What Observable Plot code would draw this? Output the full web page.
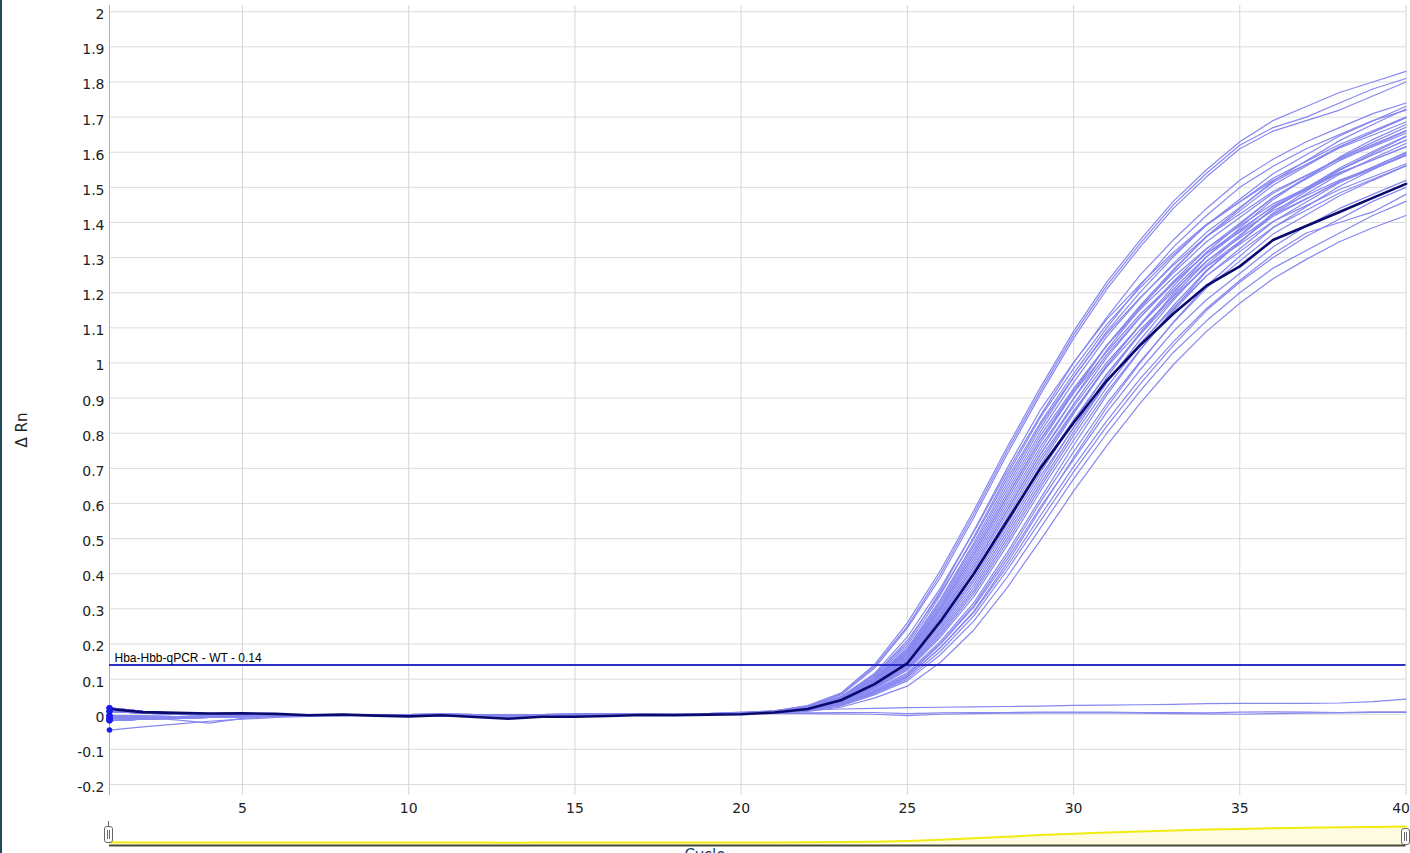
<!DOCTYPE html>
<html>
<head>
<meta charset="utf-8">
<script src="https://cdn.jsdelivr.net/npm/d3@7"></script>
<script src="https://cdn.jsdelivr.net/npm/@observablehq/plot@0.6"></script>
<style>
  html, body { margin: 0; padding: 0; background: #fff; }
  #page { position: relative; width: 1410px; height: 853px; overflow: hidden; background: #fff; }
  #main { position: absolute; left: 0; top: 0; }
  #slider { position: absolute; left: 0; top: 820px; }
  #leftBorder { position: absolute; left: 0; top: 0; width: 2px; height: 853px; background: #1f4b5b; }
  #ylabel { position: absolute; left: 22px; top: 430px; transform: translate(-50%, -50%) rotate(-90deg);
            font: 15px "DejaVu Sans", Verdana, sans-serif; color: #222; white-space: nowrap; }
  #xlabel { position: absolute; left: 705px; top: 846px; transform: translateX(-50%);
            font: 15px "DejaVu Sans", Verdana, sans-serif; color: #1c3d6b; white-space: nowrap; }
  .handle { position: absolute; width: 7px; height: 15px; background: #fff; border: 1px solid #666;
            border-radius: 3px; box-sizing: content-box; }
  .handle::before, .handle::after { content: ""; position: absolute; top: 3px; width: 1px; height: 9px; background: #666; }
  .handle::before { left: 2px; } .handle::after { left: 4px; }
  #handleTick { position: absolute; left: 108px; top: 821px; width: 1px; height: 5px; background: #666; }
</style>
</head>
<body>
<div id="page">
  <div id="main"></div>
  <div id="slider"></div>
  <div id="leftBorder"></div>
  <div id="ylabel">Δ Rn</div>
  <div id="xlabel">Cycle</div>
  <div id="handleTick"></div>
  <div class="handle" style="left:104px; top:826px;"></div>
  <div class="handle" style="left:1401px; top:828px;"></div>
</div>
<script>
// ---------- DATA ----------
const cycles = [1,2,3,4,5,6,7,8,9,10,11,12,13,14,15,16,17,18,19,20,21,22,23,24,25,26,27,28,29,30,31,32,33,34,35,36,37,38,39,40];
const xTicks = [5,10,15,20,25,30,35,40];
const yTicks = [-0.2,-0.1,0,0.1,0.2,0.3,0.4,0.5,0.6,0.7,0.8,0.9,1,1.1,1.2,1.3,1.4,1.5,1.6,1.7,1.8,1.9,2];
const threshold = 0.14;
const thresholdLabel = "Hba-Hbb-qPCR - WT - 0.14";

// Baseline patterns, cycles 1–19
const base0 = [0.008,0.003,0.000,-0.002,-0.002,-0.002,-0.003,-0.002,-0.003,-0.004,-0.003,-0.005,-0.008,-0.005,-0.004,-0.003,-0.002,-0.002,-0.001];
const base1 = [-0.004,-0.006,-0.007,-0.006,-0.005,-0.004,-0.003,-0.002,-0.002,-0.002,-0.001,-0.002,-0.003,-0.002,-0.001,0.000,0.000,0.001,0.001];
const base2 = [-0.012,-0.010,-0.009,-0.008,-0.006,-0.004,-0.003,-0.002,-0.001,-0.001,0.000,-0.001,-0.002,-0.001,0.000,0.001,0.001,0.002,0.002];
const base3 = [-0.018,-0.014,-0.011,-0.009,-0.007,-0.005,-0.003,-0.002,-0.001,-0.002,-0.001,-0.002,-0.003,-0.002,-0.001,0.000,0.000,0.001,0.001];
const base4 = [0.018,0.008,0.003,0.000,-0.001,-0.001,-0.002,-0.001,-0.002,-0.003,-0.002,-0.004,-0.006,-0.004,-0.003,-0.002,-0.001,-0.001,0.000];
const base5 = [-0.006,-0.010,-0.016,-0.025,-0.012,-0.006,-0.004,-0.002,-0.002,-0.001,0.000,-0.001,-0.002,-0.001,0.000,0.000,0.001,0.001,0.001];
const base6 = [-0.045,-0.036,-0.028,-0.020,-0.014,-0.009,-0.006,-0.004,-0.003,-0.002,-0.001,-0.002,-0.003,-0.002,-0.001,0.000,0.000,0.001,0.001];
const baselines = [base0, base1, base2, base3, base4, base5, base6];

// Amplification, cycles 20–40
const topCurves = [
  [0.004,0.010,0.025,0.060,0.140,0.260,0.410,0.580,0.760,0.930,1.090,1.230,1.350,1.460,1.550,1.630,1.690,1.730,1.770,1.800,1.830],
  [0.004,0.010,0.024,0.058,0.135,0.250,0.400,0.570,0.750,0.920,1.080,1.220,1.340,1.450,1.540,1.620,1.670,1.700,1.740,1.780,1.810],
  [0.003,0.009,0.022,0.055,0.130,0.245,0.390,0.560,0.740,0.910,1.070,1.210,1.330,1.440,1.530,1.610,1.660,1.690,1.720,1.760,1.800]
];
const upperCurves = [
  [0.003,0.008,0.020,0.050,0.115,0.220,0.360,0.520,0.690,0.850,1.000,1.130,1.250,1.350,1.440,1.520,1.580,1.630,1.670,1.710,1.740],
  [0.003,0.008,0.019,0.047,0.110,0.210,0.345,0.500,0.670,0.830,0.970,1.100,1.220,1.330,1.420,1.500,1.560,1.610,1.650,1.690,1.720]
];
const bulkCurves = [
  [0.003,0.008,0.020,0.048,0.108,0.195,0.340,0.505,0.680,0.845,0.984,1.110,1.214,1.308,1.392,1.459,1.526,1.574,1.622,1.661,1.700],
  [0.003,0.008,0.019,0.046,0.104,0.188,0.328,0.488,0.660,0.824,0.960,1.084,1.186,1.278,1.360,1.424,1.488,1.534,1.580,1.616,1.654],
  [0.003,0.008,0.019,0.045,0.101,0.181,0.316,0.471,0.640,0.803,0.945,1.075,1.184,1.283,1.372,1.443,1.514,1.565,1.616,1.657,1.698],
  [0.003,0.007,0.019,0.044,0.099,0.178,0.310,0.463,0.630,0.793,0.927,1.050,1.152,1.244,1.326,1.390,1.453,1.497,1.542,1.578,1.615],
  [0.003,0.007,0.018,0.043,0.097,0.174,0.304,0.454,0.620,0.782,0.922,1.050,1.159,1.257,1.345,1.414,1.483,1.533,1.583,1.622,1.662],
  [0.003,0.007,0.018,0.042,0.095,0.170,0.298,0.445,0.610,0.772,0.915,1.050,1.163,1.266,1.359,1.433,1.506,1.561,1.614,1.657,1.699],
  [0.003,0.007,0.018,0.042,0.094,0.167,0.292,0.437,0.600,0.761,0.898,1.024,1.130,1.226,1.312,1.379,1.445,1.492,1.540,1.578,1.616],
  [0.003,0.007,0.017,0.040,0.090,0.160,0.280,0.420,0.580,0.740,0.883,1.016,1.129,1.232,1.325,1.398,1.471,1.524,1.576,1.619,1.660],
  [0.003,0.007,0.017,0.040,0.090,0.160,0.280,0.420,0.580,0.740,0.876,1.002,1.108,1.204,1.290,1.356,1.422,1.468,1.515,1.552,1.590],
  [0.003,0.007,0.016,0.038,0.086,0.153,0.268,0.403,0.560,0.719,0.861,0.994,1.107,1.210,1.303,1.375,1.447,1.499,1.551,1.593,1.634],
  [0.003,0.007,0.016,0.038,0.085,0.150,0.262,0.395,0.550,0.709,0.855,0.992,1.110,1.218,1.316,1.394,1.471,1.527,1.583,1.628,1.671],
  [0.002,0.006,0.016,0.037,0.083,0.146,0.256,0.386,0.540,0.698,0.838,0.969,1.081,1.183,1.275,1.346,1.417,1.467,1.518,1.558,1.598],
  [0.002,0.006,0.016,0.036,0.081,0.143,0.250,0.378,0.530,0.688,0.832,0.968,1.085,1.192,1.289,1.364,1.440,1.495,1.549,1.593,1.635],
  [0.002,0.006,0.015,0.035,0.079,0.139,0.244,0.369,0.520,0.677,0.815,0.945,1.056,1.157,1.248,1.317,1.386,1.435,1.484,1.523,1.562],
  [0.002,0.006,0.015,0.034,0.076,0.132,0.232,0.352,0.500,0.656,0.804,0.944,1.066,1.178,1.280,1.360,1.440,1.498,1.555,1.602,1.646],
  [0.002,0.006,0.014,0.032,0.072,0.125,0.220,0.335,0.480,0.635,0.780,0.918,1.038,1.148,1.248,1.325,1.402,1.458,1.513,1.557,1.600],
  [0.002,0.005,0.013,0.030,0.068,0.118,0.208,0.318,0.460,0.614,0.765,0.909,1.036,1.153,1.261,1.344,1.427,1.489,1.549,1.598,1.644],
  [0.002,0.005,0.013,0.030,0.067,0.114,0.202,0.310,0.450,0.604,0.747,0.884,1.004,1.114,1.214,1.290,1.367,1.421,1.476,1.520,1.561],
  [0.002,0.005,0.013,0.028,0.063,0.107,0.190,0.293,0.430,0.583,0.731,0.874,1.000,1.116,1.220,1.304,1.385,1.445,1.503,1.550,1.595],
  [0.003,0.008,0.021,0.050,0.112,0.202,0.352,0.522,0.700,0.866,1.002,1.124,1.224,1.315,1.395,1.458,1.520,1.565,1.612,1.649,1.686],
  [0.003,0.008,0.019,0.046,0.103,0.185,0.322,0.480,0.650,0.814,0.958,1.090,1.201,1.302,1.393,1.466,1.539,1.593,1.646,1.689,1.731],
  [0.003,0.007,0.017,0.041,0.092,0.164,0.286,0.429,0.590,0.751,0.899,1.037,1.155,1.263,1.361,1.440,1.518,1.576,1.633,1.679,1.723],
  [0.003,0.007,0.017,0.039,0.088,0.156,0.274,0.411,0.570,0.729,0.864,0.988,1.094,1.189,1.274,1.338,1.403,1.448,1.494,1.530,1.567],
  [0.002,0.006,0.015,0.034,0.077,0.135,0.238,0.360,0.510,0.666,0.817,0.959,1.084,1.198,1.302,1.384,1.465,1.527,1.586,1.636,1.679],
  [0.003,0.007,0.018,0.043,0.097,0.174,0.304,0.454,0.620,0.782,0.915,1.032,1.138,1.229,1.312,1.372,1.434,1.477,1.521,1.555,1.592],
  [0.002,0.006,0.014,0.033,0.074,0.128,0.226,0.344,0.490,0.646,0.793,0.931,1.052,1.163,1.264,1.343,1.423,1.481,1.537,1.582,1.625]
];
const lowerCurves = [
  [0.002,0.004,0.010,0.024,0.055,0.095,0.170,0.265,0.390,0.530,0.670,0.800,0.920,1.030,1.120,1.200,1.270,1.320,1.370,1.420,1.460],
  [0.001,0.003,0.008,0.020,0.046,0.080,0.148,0.240,0.360,0.495,0.635,0.765,0.885,0.995,1.090,1.170,1.240,1.295,1.345,1.385,1.420],
  [0.002,0.005,0.011,0.026,0.058,0.100,0.180,0.280,0.410,0.550,0.690,0.820,0.940,1.050,1.150,1.230,1.300,1.360,1.410,1.460,1.500],
  [0.002,0.005,0.011,0.027,0.060,0.105,0.190,0.290,0.420,0.565,0.705,0.835,0.955,1.060,1.155,1.235,1.310,1.370,1.400,1.430,1.480],
  [0.002,0.005,0.012,0.029,0.064,0.110,0.200,0.305,0.440,0.590,0.725,0.860,0.980,1.090,1.180,1.255,1.330,1.390,1.440,1.480,1.520]
];
const ntcCurves = [
  [0.006,0.009,0.012,0.015,0.017,0.019,0.020,0.021,0.022,0.023,0.025,0.026,0.027,0.028,0.030,0.031,0.031,0.031,0.032,0.036,0.043],
  [0.003,0.004,0.004,0.005,0.005,0.002,0.004,0.005,0.005,0.006,0.006,0.006,0.005,0.005,0.004,0.006,0.007,0.006,0.005,0.007,0.007],
  [0.002,0.002,0.002,0.001,0.000,-0.004,0.000,0.002,0.003,0.004,0.004,0.004,0.003,0.002,0.001,0.000,0.002,0.003,0.004,0.005,0.005]
];
// baseline pattern used by each light curve (in order top, upper, bulk, lower, ntc)
const baselineOf = [0,1,2, 3,4, 0,1,2,3,4,1,2,3,0,1,2,3,4,0,1,2,3,4,1,2,3,0,4,5, 1,2,3,0,4, 6,1,2];

// Highlighted well (cycles 1–40)
const highlighted = [0.015,0.006,0.004,0.002,0.003,0.001,-0.003,-0.001,-0.004,-0.006,-0.003,-0.008,-0.013,-0.007,-0.007,-0.005,-0.002,-0.003,-0.001,
  0.000,0.005,0.015,0.040,0.085,0.145,0.265,0.400,0.550,0.700,0.830,0.950,1.050,1.140,1.220,1.275,1.350,1.390,1.430,1.470,1.510];

// ---------- BUILD TABLES ----------
const lightCurves = [...topCurves, ...upperCurves, ...bulkCurves, ...lowerCurves, ...ntcCurves];
const rows = [];
const starts = [];
lightCurves.forEach((g, k) => {
  const vals = baselines[baselineOf[k] ?? (k % 5)].concat(g);
  vals.forEach((v, i) => rows.push({id: k, cycle: cycles[i], dRn: v}));
  starts.push({cycle: cycles[0], dRn: vals[0]});
});
const darkRows = highlighted.map((v, i) => ({cycle: cycles[i], dRn: v}));
starts.push({cycle: cycles[0], dRn: highlighted[0]});

const fmt = d => String(+(+d).toFixed(1));
const xTicksInner = xTicks.slice(0, -1);
const xTickLast = xTicks.slice(-1);

const main = Plot.plot({
  width: 1410, height: 820,
  marginLeft: 109, marginRight: 4.5, marginTop: 5, marginBottom: 25,
  x: {domain: [1, 40]},
  y: {domain: [-0.2313, 2.0177]},
  style: {fontFamily: "'DejaVu Sans', Verdana, sans-serif", fontSize: "14px", color: "#222", background: "#fff"},
  marks: [
    Plot.ruleY(yTicks, {stroke: "#dcdcdc", strokeWidth: 1}),
    Plot.ruleX(xTicks, {stroke: "#d6d6d6", strokeWidth: 1}),
    Plot.ruleX([1], {stroke: "#b0b0b0", strokeWidth: 1}),
    Plot.axisY(yTicks, {tickSize: 0, tickPadding: 5, dy: 3, tickFormat: fmt, label: null}),
    Plot.axisX(xTicksInner, {tickSize: 0, tickPadding: 8, label: null}),
    Plot.axisX(xTickLast, {tickSize: 0, tickPadding: 8, label: null, textAnchor: "end", dx: 4}),
    Plot.line(rows, {x: "cycle", y: "dRn", z: "id", stroke: "#8787f0", strokeWidth: 1.2, curve: "linear"}),
    Plot.ruleY([threshold], {stroke: "#2e2ec6", strokeWidth: 2}),
    Plot.text([{cycle: 1, dRn: threshold, label: thresholdLabel}], {
      x: "cycle", y: "dRn", text: "label", textAnchor: "start", dx: 5, dy: -7,
      fontFamily: "'Liberation Sans', Arial, sans-serif", fontSize: 12, fill: "#000"
    }),
    Plot.line(darkRows, {x: "cycle", y: "dRn", stroke: "#0a0a6e", strokeWidth: 2.6}),
    Plot.dot(starts, {x: "cycle", y: "dRn", r: 2.8, fill: "#1a1aee", stroke: "none"})
  ]
});
document.getElementById("main").appendChild(main);

const slider = Plot.plot({
  width: 1410, height: 33,
  marginLeft: 109, marginRight: 4.5, marginTop: 6, marginBottom: 8,
  x: {domain: [1, 40], axis: null},
  y: {domain: [-0.28, 1.51], axis: null},
  style: {background: "transparent"},
  marks: [
    Plot.areaY(darkRows, {x: "cycle", y1: -0.28, y2: "dRn", fill: "#fffbe0"}),
    Plot.line(darkRows, {x: "cycle", y: "dRn", stroke: "#f0ec10", strokeWidth: 2}),
    Plot.ruleY([-0.28], {stroke: "#4a4a38", strokeWidth: 2})
  ]
});
document.getElementById("slider").appendChild(slider);
</script>
</body>
</html>
